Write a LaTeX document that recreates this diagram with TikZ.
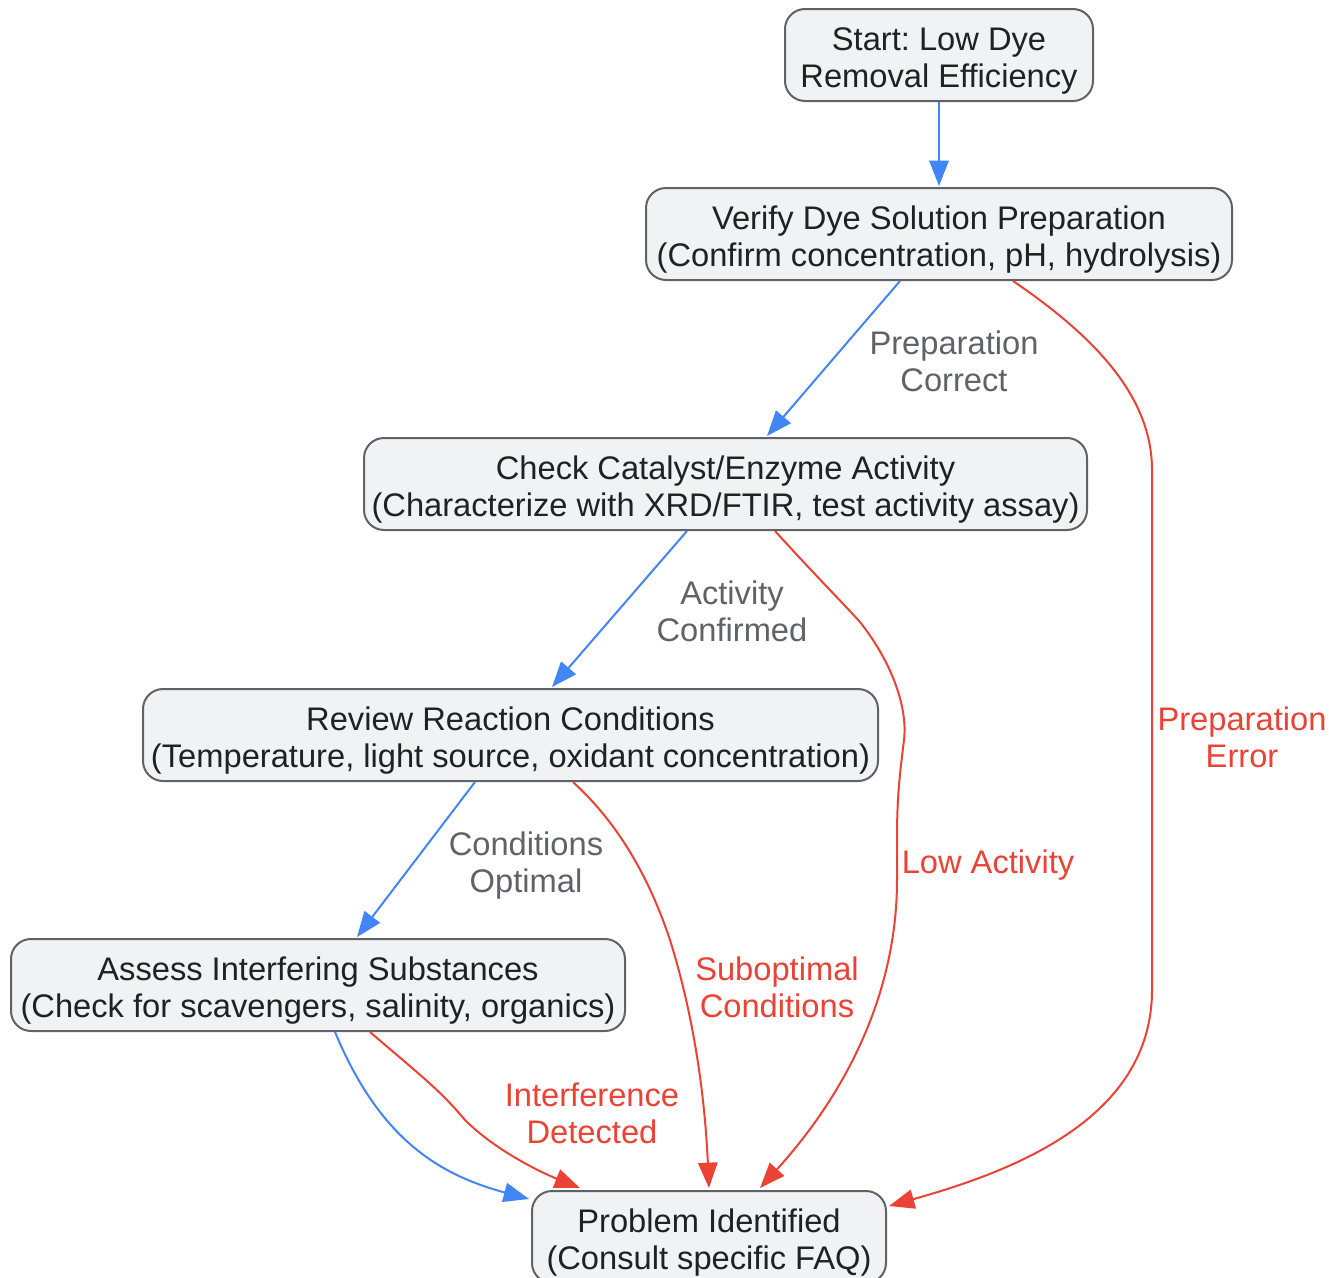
\documentclass[tikz,border=0pt]{standalone}
\usepackage{fontspec}
\setmainfont{Liberation Sans}
\usetikzlibrary{arrows.meta,calc}
\frenchspacing
\definecolor{boxfill}{HTML}{F1F2F4}
\definecolor{boxdraw}{HTML}{5F6368}
\definecolor{txtc}{HTML}{202124}
\definecolor{okblue}{HTML}{4285F4}
\definecolor{errred}{HTML}{EA4335}
\definecolor{lblgray}{HTML}{5F6368}
\begin{document}
\begin{tikzpicture}[x=0.75pt,y=-0.75pt,
  box/.style={rounded corners=15pt, draw=boxdraw, line width=1.5pt, fill=boxfill,
    align=center, inner sep=0pt, minimum height=69pt, text=txtc,
    text height=53.4pt, text depth=5.2pt,
    font=\fontsize{24.5pt}{27.75pt}\selectfont},
  lbl/.style={align=center, inner sep=0pt, font=\fontsize{24.5pt}{27.75pt}\selectfont},
  oklbl/.style={lbl, text=lblgray},
  errlbl/.style={lbl, text=errred},
  edge/.style={line width=1.5pt, -{Triangle[length=19pt,width=14.5pt]}},
  okedge/.style={edge, draw=okblue, color=okblue},
  erredge/.style={edge, draw=errred, color=errred}]
\useasboundingbox (0,0) rectangle (1329,1278);

\node[box, minimum width=231pt] (start) at (939,55) {Start: Low Dye\\Removal Efficiency};
\node[box, minimum width=439.5pt] (verify) at (939,234) {Verify Dye Solution Preparation\\(Confirm concentration, pH, hydrolysis)};
\node[box, minimum width=542.25pt] (check) at (725.5,484) {Check Catalyst/Enzyme Activity\\(Characterize with XRD/FTIR, test activity assay)};
\node[box, minimum width=551.25pt] (review) at (510.5,735) {Review Reaction Conditions\\(Temperature, light source, oxidant concentration)};
\node[box, minimum width=460.5pt] (assess) at (318,985) {Assess Interfering Substances\\(Check for scavengers, salinity, organics)};
\node[box, minimum width=265.5pt] (problem) at (709,1237) {Problem Identified\\(Consult specific FAQ)};

% blue edges
\draw[okedge] (start.south) -- ($(verify.north)+(0,-1)$);
\draw[okedge] ($(verify.south)+(-39,0)$) -- ($(check.north)+(41.5,-1)$);
\draw[okedge] ($(check.south)+(-38.5,0)$) -- ($(review.north)+(41.5,-1)$);
\draw[okedge] ($(review.south)+(-35.5,0)$) -- ($(assess.north)+(39,-1)$);
\draw[okedge] ($(assess.south)+(17,0)$) .. controls (380,1140) and (440,1175) .. ($(problem.west)+(-2,-38)$);

% red edges
\draw[erredge] ($(verify.south)+(74,0)$) .. controls (1100,340) and (1152,400) .. (1152,470)
  -- (1152,990) .. controls (1152,1120) and (1010,1172) .. ($(problem.east)+(2,-31)$);
\draw[erredge] ($(check.south)+(49.5,0)$) .. controls (815,575) and (840,600) .. (860,622)
  .. controls (890,660) and (908,705) .. (904,740) .. controls (899,780) and (897,800) .. (897,840)
  -- (897,880) .. controls (897,1000) and (840,1100) .. ($(problem.north)+(51,-2)$);
\draw[erredge] ($(review.south)+(62.5,0)$) .. controls (620,825) and (650,880) .. (670,940)
  .. controls (695,1020) and (705,1100) .. ($(problem.north)+(0,-2)$);
\draw[erredge] ($(assess.south)+(52,0)$) .. controls (420,1075) and (440,1090) .. (465,1120)
  .. controls (495,1150) and (540,1172) .. ($(problem.north)+(-129,-2)$);

% labels
\node[oklbl] (lpc) at (954,361) {Preparation\\Correct};
\node[oklbl] (lac) at (732,611) {Activity\\Confirmed};
\node[oklbl] (lco) at (526,866) {Conditions\\Optimal};
\node[errlbl] (lpe) at (1242,737) {Preparation\\Error};
\node[errlbl] (lla) at (988,865) {Low Activity};
\node[errlbl] (lsc) at (777,987) {Suboptimal\\Conditions};
\node[errlbl] (lid) at (592,1113) {Interference\\Detected};
\end{tikzpicture}
\end{document}
